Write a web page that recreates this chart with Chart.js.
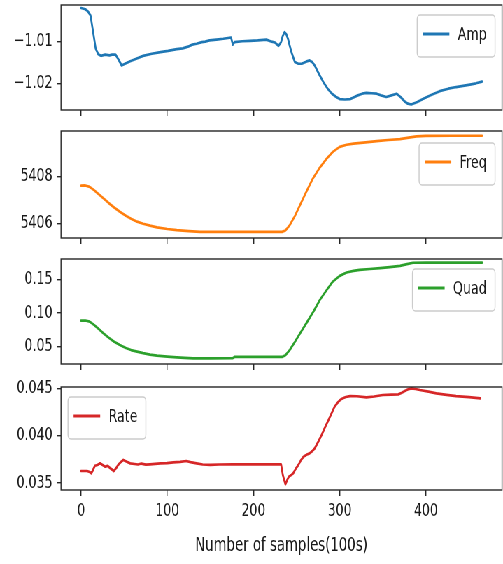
<!DOCTYPE html>
<html>
<head>
<meta charset="utf-8">
<script src="https://cdn.jsdelivr.net/npm/chart.js@4.4.1/dist/chart.umd.min.js"></script>
<style>
  html, body { margin: 0; padding: 0; background: #fff; }
  body { width: 503px; height: 564px; overflow: hidden; position: relative; }
  /* the figure is laid out wide and narrowed horizontally */
  #fig { position: absolute; left: 0; top: 0; width: 719px; height: 564px;
         transform: scaleX(0.69958); transform-origin: 0 0; }
  #fig canvas { position: absolute; left: 0; }
</style>
</head>
<body>
<div id="fig">
  <canvas id="cAmp"></canvas>
  <canvas id="cFreq"></canvas>
  <canvas id="cQuad"></canvas>
  <canvas id="cRate"></canvas>
</div>
<script>
// ---- data: sample index (hundreds of samples) and measured values ----
const ampX = [0, 5, 8, 11, 14, 17, 20, 23, 28, 33, 36, 40, 44, 47, 51, 57, 64, 72, 82, 92, 101, 111, 118, 124, 129, 134, 140, 144, 149, 157, 165, 174, 176, 178, 187, 196, 205, 215, 221, 225, 229, 232, 234, 236, 238, 240, 242, 244, 248, 252, 256, 261, 265, 268, 271, 276, 281, 286, 291, 296, 300, 306, 312, 316, 321, 326, 331, 337, 343, 348, 354, 360, 366, 371, 375, 379, 383, 390, 397, 406, 416, 426, 435, 443, 451, 458, 465];
const ampY = [-1.0019, -1.0022, -1.0027, -1.0037, -1.0077, -1.0117, -1.0130, -1.0134, -1.0131, -1.0133, -1.0131, -1.0131, -1.0145, -1.0157, -1.0153, -1.0147, -1.0141, -1.0134, -1.0129, -1.0125, -1.0122, -1.0118, -1.0116, -1.0112, -1.0107, -1.0105, -1.0101, -1.0100, -1.0097, -1.0095, -1.0093, -1.0090, -1.0107, -1.0101, -1.0099, -1.0098, -1.0097, -1.0095, -1.0100, -1.0102, -1.0110, -1.0101, -1.0086, -1.0077, -1.0082, -1.0093, -1.0110, -1.0125, -1.0149, -1.0153, -1.0153, -1.0148, -1.0145, -1.0149, -1.0157, -1.0178, -1.0197, -1.0213, -1.0225, -1.0233, -1.0238, -1.0239, -1.0238, -1.0234, -1.0229, -1.0225, -1.0223, -1.0224, -1.0225, -1.0229, -1.0233, -1.0229, -1.0225, -1.0234, -1.0243, -1.0249, -1.0251, -1.0245, -1.0237, -1.0228, -1.0219, -1.0213, -1.0209, -1.0206, -1.0203, -1.0200, -1.0196];

const freqX = [0, 5, 10, 15, 20, 26, 32, 38, 45, 52, 58, 65, 72, 80, 88, 100, 111, 125, 138, 160, 190, 215, 233, 237, 242, 248, 254, 261, 269, 277, 285, 292, 300, 308, 316, 330, 343, 356, 370, 380, 389, 400, 430, 465];
const freqY = [5407.61, 5407.62, 5407.56, 5407.42, 5407.26, 5407.07, 5406.88, 5406.70, 5406.51, 5406.34, 5406.21, 5406.09, 5406.00, 5405.92, 5405.85, 5405.78, 5405.73, 5405.69, 5405.66, 5405.66, 5405.66, 5405.66, 5405.66, 5405.72, 5405.94, 5406.33, 5406.79, 5407.33, 5407.92, 5408.38, 5408.76, 5409.04, 5409.25, 5409.34, 5409.39, 5409.44, 5409.49, 5409.54, 5409.58, 5409.64, 5409.69, 5409.71, 5409.72, 5409.72];

const quadX = [0, 5, 10, 15, 20, 26, 32, 38, 45, 52, 58, 65, 72, 80, 88, 100, 111, 120, 130, 150, 176, 178, 200, 233, 237, 242, 248, 254, 262, 270, 277, 285, 292, 300, 308, 316, 323, 335, 347, 358, 370, 378, 385, 400, 430, 465];
const quadY = [0.0884, 0.0886, 0.0869, 0.0821, 0.0763, 0.0694, 0.0629, 0.0572, 0.0519, 0.0475, 0.0443, 0.0419, 0.0397, 0.0376, 0.0359, 0.0344, 0.0334, 0.0326, 0.0318, 0.0318, 0.0322, 0.0340, 0.0340, 0.0340, 0.0365, 0.0444, 0.0565, 0.0694, 0.0860, 0.1030, 0.1195, 0.1345, 0.1470, 0.1555, 0.1605, 0.1630, 0.1645, 0.1658, 0.1670, 0.1685, 0.1705, 0.1732, 0.1752, 0.1755, 0.1755, 0.1753];

const rateX = [0, 4, 7, 10, 12, 14, 16, 19, 22, 25, 28, 31, 34, 38, 41, 43, 46, 49, 53, 57, 62, 66, 70, 75, 80, 86, 92, 100, 107, 115, 122, 127, 134, 141, 150, 160, 176, 200, 220, 232, 234, 237, 239, 241, 244, 246, 249, 252, 255, 258, 262, 265, 268, 271, 275, 279, 283, 287, 291, 294, 298, 302, 307, 312, 320, 331, 340, 350, 360, 368, 372, 376, 380, 383, 388, 393, 403, 412, 424, 435, 450, 463];
const rateY = [0.03626, 0.03626, 0.03626, 0.03615, 0.03602, 0.03640, 0.03682, 0.03690, 0.03707, 0.03690, 0.03672, 0.03680, 0.03655, 0.03626, 0.03660, 0.03690, 0.03720, 0.03743, 0.03725, 0.03707, 0.03700, 0.03695, 0.03705, 0.03693, 0.03697, 0.03702, 0.03707, 0.03710, 0.03718, 0.03722, 0.03732, 0.03720, 0.03707, 0.03695, 0.03690, 0.03695, 0.03697, 0.03697, 0.03697, 0.03697, 0.03584, 0.03485, 0.03530, 0.03566, 0.03585, 0.03602, 0.03650, 0.03690, 0.03740, 0.03778, 0.03800, 0.03813, 0.03835, 0.03866, 0.03935, 0.04007, 0.04090, 0.04166, 0.04245, 0.04307, 0.04355, 0.04389, 0.04410, 0.04420, 0.04418, 0.04406, 0.04415, 0.04431, 0.04436, 0.04438, 0.04455, 0.04476, 0.04494, 0.04502, 0.04495, 0.04484, 0.04466, 0.04449, 0.04433, 0.04420, 0.04408, 0.04396];

// ---- tick values and their labels ----
const xTicks = [0, 100, 200, 300, 400];
const xTickLabels = ['0', '100', '200', '300', '400'];
const ampTicks = [-1.02, -1.01];
const ampTickLabels = ['\u22121.02', '\u22121.01'];
const freqTicks = [5406, 5408];
const freqTickLabels = ['5406', '5408'];
const quadTicks = [0.05, 0.10, 0.15];
const quadTickLabels = ['0.05', '0.10', '0.15'];
const rateTicks = [0.035, 0.040, 0.045];
const rateTickLabels = ['0.035', '0.040', '0.045'];

// ---- layout (figure laid out at 719 px wide) ----
const FIG_W = 719;
const PLOT_LEFT = 87.2;
const PLOT_RIGHT = 717.6;
const PAD_TOP = 12;
const FONT = "'DejaVu Sans', 'Liberation Sans', sans-serif";
const INK = '#262626';
const X_MIN = -23.25, X_MAX = 488.25;

Chart.defaults.font.family = FONT;
Chart.defaults.font.size = 18;
Chart.defaults.color = '#1a1a1a';

// frame around each plotting area
const framePlugin = {
  id: 'frame',
  afterDatasetsDraw(chart) {
    const { ctx, chartArea: a } = chart;
    ctx.save();
    ctx.strokeStyle = INK;
    ctx.lineWidth = 1.4;
    ctx.strokeRect(a.left, a.top, a.right - a.left, a.bottom - a.top);
    ctx.restore();
  }
};

// legend box drawn inside the plotting area
const boxLegend = {
  id: 'boxLegend',
  afterDraw(chart, args, opts) {
    const { ctx, chartArea: a } = chart;
    const ds = chart.data.datasets[0];
    ctx.save();
    ctx.font = '18px ' + FONT;
    const tw = ctx.measureText(ds.label).width;
    const padL = 8, handle = 38, gap = 12, padR = 12, h = 42, m = 10;
    const w = padL + handle + gap + tw + padR;
    const x = opts.corner === 'ul' ? a.left + m : a.right - m - w;
    const y = a.top + (opts.dy != null ? opts.dy : m);
    ctx.beginPath();
    ctx.roundRect(x, y, w, h, 4);
    ctx.fillStyle = 'rgba(255,255,255,0.8)';
    ctx.fill();
    ctx.strokeStyle = '#cccccc';
    ctx.lineWidth = 1.4;
    ctx.stroke();
    const cy = y + 19;
    ctx.beginPath();
    ctx.moveTo(x + padL, cy);
    ctx.lineTo(x + padL + handle, cy);
    ctx.strokeStyle = ds.borderColor;
    ctx.lineWidth = 2.8;
    ctx.stroke();
    ctx.fillStyle = '#1a1a1a';
    ctx.textBaseline = 'middle';
    ctx.textAlign = 'left';
    ctx.fillText(ds.label, x + padL + handle + gap, cy + 1);
    ctx.restore();
  }
};

function panel(id, opt) {
  const canvas = document.getElementById(id);
  const xh = opt.bottomAxis ? 74 : 8;
  const h = PAD_TOP + opt.plotH + xh;
  canvas.width = FIG_W;
  canvas.height = h;
  canvas.style.top = (opt.top - PAD_TOP) + 'px';

  const points = opt.xs.map((x, i) => ({ x: x, y: opt.ys[i] }));
  return new Chart(canvas, {
    type: 'line',
    data: {
      datasets: [{
        label: opt.label,
        data: points,
        borderColor: opt.color,
        borderWidth: 2.7,
        pointRadius: 0,
        tension: 0,
        borderJoinStyle: 'round',
        borderCapStyle: 'round',
        fill: false
      }]
    },
    options: {
      responsive: false,
      animation: false,
      devicePixelRatio: 1,
      events: [],
      layout: { padding: { top: PAD_TOP, left: 0, right: FIG_W - PLOT_RIGHT, bottom: 0 } },
      plugins: {
        legend: { display: false },
        tooltip: { enabled: false },
        boxLegend: { corner: opt.corner, dy: opt.legendDy }
      },
      scales: {
        x: {
          type: 'linear',
          min: X_MIN,
          max: X_MAX,
          afterFit: s => { s.height = xh; s.paddingLeft = 0; s.paddingRight = 0; },
          afterBuildTicks: s => { s.ticks = xTicks.map(v => ({ value: v })); },
          grid: { drawOnChartArea: false, drawTicks: true, tickLength: 6, color: INK, lineWidth: 1.4 },
          border: { display: false },
          ticks: {
            display: !!opt.bottomAxis,
            padding: 5,
            maxRotation: 0,
            autoSkip: false,
            callback: (v) => { const i = xTicks.indexOf(v); return i >= 0 ? xTickLabels[i] : ''; }
          },
          title: {
            display: !!opt.bottomAxis,
            text: 'Number of samples(100s)',
            font: { size: 19 },
            padding: { top: 0, bottom: 7 }
          }
        },
        y: {
          type: 'linear',
          min: opt.yMin,
          max: opt.yMax,
          afterFit: s => { s.width = PLOT_LEFT; s.paddingTop = 0; s.paddingBottom = 0; },
          afterBuildTicks: s => { s.ticks = opt.ticks.map(v => ({ value: v })); },
          grid: { drawOnChartArea: false, drawTicks: true, tickLength: 6, color: INK, lineWidth: 1.4 },
          border: { display: false },
          ticks: {
            padding: 6,
            autoSkip: false,
            callback: (v) => {
              const i = opt.ticks.findIndex(t => Math.abs(t - v) < 1e-9);
              return i >= 0 ? opt.tickLabels[i] : '';
            }
          }
        }
      }
    },
    plugins: [framePlugin, boxLegend]
  });
}

panel('cAmp', {
  label: 'Amp', color: '#1f77b4', xs: ampX, ys: ampY,
  top: 5, plotH: 105, yMin: -1.02642, yMax: -1.00118,
  ticks: ampTicks, tickLabels: ampTickLabels, corner: 'ur', legendDy: 10
});
panel('cFreq', {
  label: 'Freq', color: '#ff7f0e', xs: freqX, ys: freqY,
  top: 130.5, plotH: 107, yMin: 5405.40, yMax: 5409.92,
  ticks: freqTicks, tickLabels: freqTickLabels, corner: 'ur', legendDy: 12
});
panel('cQuad', {
  label: 'Quad', color: '#2ca02c', xs: quadX, ys: quadY,
  top: 258.5, plotH: 105, yMin: 0.02342, yMax: 0.1808,
  ticks: quadTicks, tickLabels: quadTickLabels, corner: 'ur', legendDy: 10
});
panel('cRate', {
  label: 'Rate', color: '#d62728', xs: rateX, ys: rateY,
  top: 387, plotH: 103, yMin: 0.034248, yMax: 0.045159,
  ticks: rateTicks, tickLabels: rateTickLabels, corner: 'ul', legendDy: 10, bottomAxis: true
});
</script>
</body>
</html>
